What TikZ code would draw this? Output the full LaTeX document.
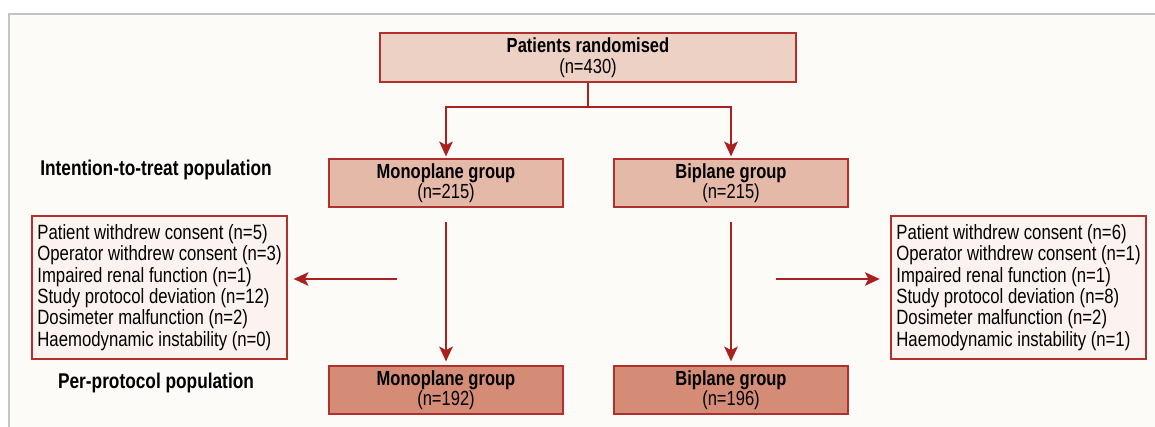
\documentclass[tikz,border=0pt]{standalone}
\usepackage{fontspec}
\setmainfont[FakeStretch=0.81]{Liberation Sans}
\usetikzlibrary{arrows.meta}
\definecolor{bordred}{HTML}{B0302E}
\definecolor{arrred}{HTML}{A8201F}
\definecolor{topfill}{HTML}{EED1C5}
\definecolor{ittfill}{HTML}{E5B9A8}
\definecolor{ppfill}{HTML}{D48C76}
\definecolor{exfill}{HTML}{FCF2F0}
\definecolor{panelbg}{HTML}{FCFBF7}
\definecolor{panelline}{HTML}{C4C4C4}
\tikzset{
  box/.style={draw=bordred, line width=0.9pt, inner sep=0pt, align=center, font=\fontsize{15.3}{14}\selectfont},
  topbox/.style={box, fill=topfill, minimum width=312pt, minimum height=36.75pt},
  ittbox/.style={box, fill=ittfill, minimum width=175.5pt, minimum height=36pt},
  ppbox/.style={box, fill=ppfill, minimum width=175.5pt, minimum height=36pt},
  exbox/.style={draw=bordred, line width=0.9pt, fill=exfill, minimum width=191.25pt, minimum height=107.25pt, inner xsep=1pt, inner ysep=0pt, align=left, font=\fontsize{15.5}{16}\selectfont},
  poplabel/.style={font=\bfseries\fontsize{16}{16}\selectfont},
  conn/.style={draw=arrred, line width=1.9pt, -{Stealth[length=11pt,width=10pt,inset=2.5pt]}},
}
\begin{document}
\begin{tikzpicture}[x=0.75pt,y=-0.75pt]
\useasboundingbox (0,0) rectangle (1155,427);
\fill[white] (0,0) rectangle (1155,427);
\fill[panelbg] (9,14) rectangle (1160,430);
\draw[panelline, line width=1.2pt] (9,430) -- (9,14) -- (1160,14);

\node[topbox] (top) at (588,57.5) {\textbf{Patients randomised}\\[2pt](n=430)};
\node[ittbox] (monoI) at (446,183) {\textbf{Monoplane group}\\[0pt](n=215)};
\node[ittbox] (biI) at (731,183) {\textbf{Biplane group}\\[0pt](n=215)};
\node[ppbox] (monoP) at (446,390) {\textbf{Monoplane group}\\[0pt](n=192)};
\node[ppbox] (biP) at (731,390) {\textbf{Biplane group}\\[0pt](n=196)};

\node[poplabel] (itt) at (156,170) {Intention-to-treat population};
\node[poplabel] (pp) at (156,383) {Per-protocol population};

\node[exbox] (exL) at (159.5,287.5) {Patient withdrew consent (n=5)\\Operator withdrew consent (n=3)\\Impaired renal function (n=1)\\Study protocol deviation (n=12)\\Dosimeter malfunction (n=2)\\Haemodynamic instability (n=0)};
\node[exbox] (exR) at (1018.5,287.5) {Patient withdrew consent (n=6)\\Operator withdrew consent (n=1)\\Impaired renal function (n=1)\\Study protocol deviation (n=8)\\Dosimeter malfunction (n=2)\\Haemodynamic instability (n=1)};

\coordinate (split) at (588,107);
\coordinate (lstart) at (397,279);
\coordinate (rstart) at (776,279);

\draw[conn, shorten >=1.5pt] (top.south) -- (split) -| (monoI.north);
\draw[conn, shorten >=1.5pt] (split) -| (biI.north);
\draw[conn, shorten <=11pt, shorten >=3pt] (monoI.south) -- (monoP.north);
\draw[conn, shorten <=11pt, shorten >=3pt] (biI.south) -- (biP.north);
\draw[conn, shorten >=4.5pt] (lstart) -- (lstart -| exL.east);
\draw[conn, shorten >=8pt] (rstart) -- (rstart -| exR.west);
\end{tikzpicture}
\end{document}
